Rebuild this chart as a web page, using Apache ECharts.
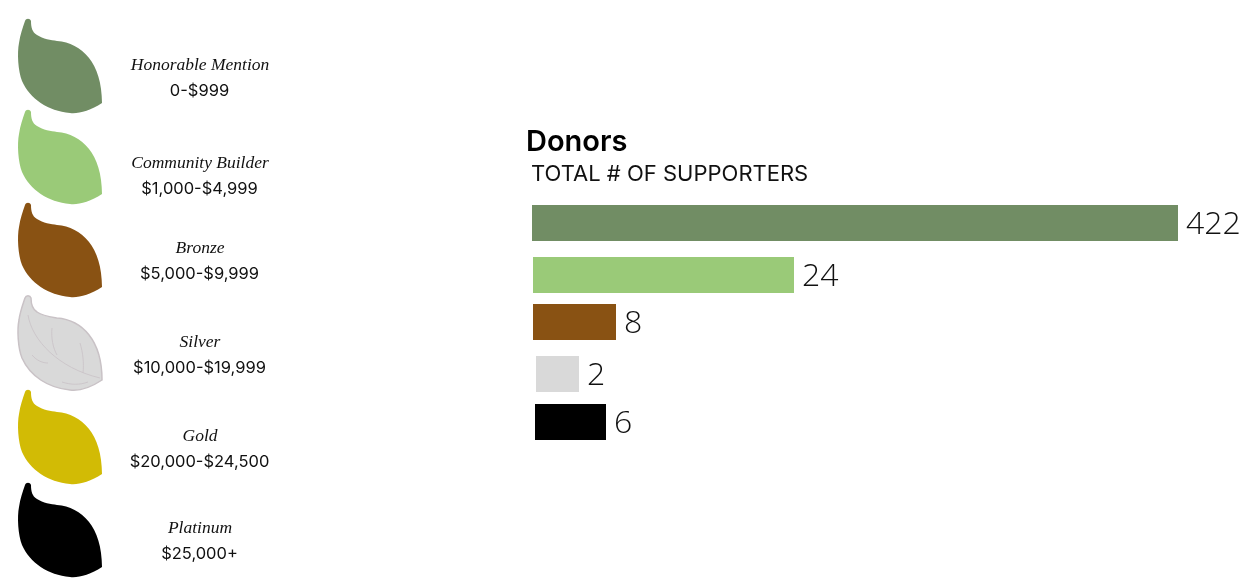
<!DOCTYPE html>
<html>
<head>
<meta charset="utf-8">
<style>html,body{margin:0;padding:0;background:#fff}#c{width:1242px;height:578px}</style>
<script src="https://cdn.jsdelivr.net/npm/echarts@6/dist/echarts.min.js"></script>
</head>
<body>
<div id="c"></div>
<script>
const tiers = ['Honorable Mention','Community Builder','Bronze','Silver','Gold','Platinum'];
const ranges = ['0-$999','$1,000-$4,999','$5,000-$9,999','$10,000-$19,999','$20,000-$24,500','$25,000+'];
const tierColors = ['#718d64','#9aca78','#895213','#d9d9d9','#d2bb05','#000000'];
const barTiers = ['Honorable Mention','Community Builder','Bronze','Silver','Platinum'];
const donors = [422,24,8,2,6];
const barLengths = [646,261,83,43,71];
const barColors = ['#718d64','#9aca78','#895213','#d9d9d9','#000000'];

const barLeft = [532,533,533,536,535];
const barTop = [205,257,304,356,404];
const leafTop = [19,110,203,296,390,483];
const nameY = [65,163,248,342,436,528];
const rangeY = [91,189,274,368,462,554];
const AXIS_MAX = 700;

const leaf = 'M7,2 C8,-1 12,-1 13,2 C13,8 14,13 19,16 C25,20 33,21 39,22 C64,24 84,44 84,84 C72,92 60,95 52,94 C30,92 12,80 4,62 C0,52 -1,34 1,24 C2,16 5,8 7,2 Z';
const veins = ['M10,19 C14,44 40,72 82,82','M34,32 C33,42 35,52 39,59','M62,47 C65,57 66,67 65,77','M14,59 C19,65 25,67 30,67','M44,86 C53,89 62,89 70,86'];

const graphic = [];
tiers.forEach((t,i)=>{
  graphic.push({type:'text',x:200,y:nameY[i],style:{text:t,fill:'#111',align:'center',verticalAlign:'middle',
    font:'italic 17.5px "Liberation Serif"'}});
  graphic.push({type:'text',x:199.5,y:rangeY[i],style:{text:ranges[i],fill:'#111',align:'center',verticalAlign:'middle',
    font:'16.5px Inter'}});
});

const leafSeries = {
  type:'custom',coordinateSystem:'none',silent:true,
  data:tiers.map((_,i)=>i),
  renderItem:(params,api)=>{
    const i = api.value(0);
    const silver = i===3;
    const children = [{type:'path',shape:{pathData:leaf},
      style:{fill:tierColors[i],stroke:silver?'#c9c2c6':null,lineWidth:silver?1.5:0}}];
    if(silver) veins.forEach(v=>children.push({type:'path',shape:{pathData:v},
      style:{fill:null,stroke:'#c9c2c6',lineWidth:0.8}}));
    return {type:'group',x:18,y:leafTop[i],children};
  }
};

const option = {
  animation:false,
  backgroundColor:'#fff',
  title:[
    {text:'Donors',left:526,top:128,textStyle:{fontFamily:'Inter',fontSize:29,fontWeight:600,color:'#000'},padding:0},
    {text:'TOTAL # OF SUPPORTERS',left:531,top:163,textStyle:{fontFamily:'Inter',fontSize:22,fontWeight:400,color:'#111'},padding:0}
  ],
  graphic,
  grid: barTiers.map((_,i)=>({left:barLeft[i],top:barTop[i],width:AXIS_MAX,height:36})),
  xAxis: barTiers.map((_,i)=>({type:'value',gridIndex:i,min:0,max:AXIS_MAX,show:false})),
  yAxis: barTiers.map((t,i)=>({type:'category',gridIndex:i,data:[t],show:false})),
  series: barTiers.map((t,i)=>({
    type:'bar',name:t,xAxisIndex:i,yAxisIndex:i,barWidth:36,
    data:[barLengths[i]],
    itemStyle:{color:barColors[i]},
    label:{show:true,position:'right',distance:8,offset:[0,2],formatter:()=>String(donors[i]),
      fontFamily:'Open Sans',fontWeight:300,fontSize:32,color:'#111'}
  })).concat([leafSeries])
};
echarts.init(document.getElementById('c'),null,{renderer:'canvas'}).setOption(option);
</script>
</body>
</html>
